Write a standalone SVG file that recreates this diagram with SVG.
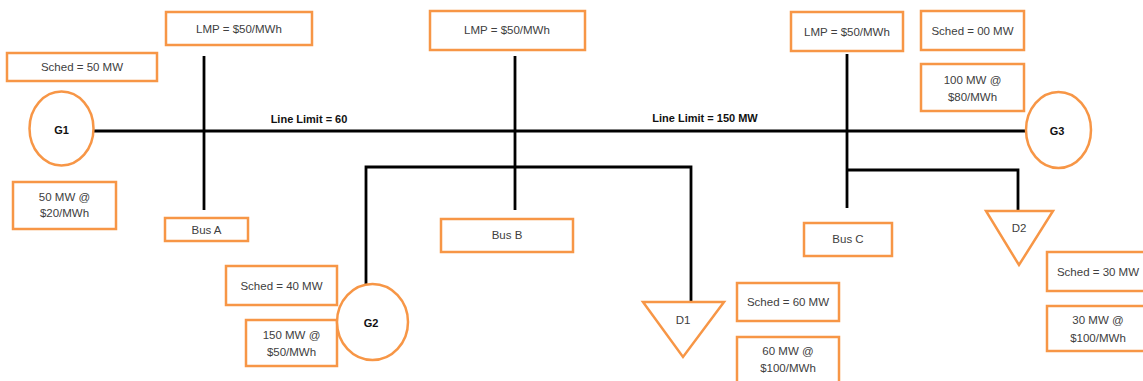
<svg xmlns="http://www.w3.org/2000/svg" width="1143" height="381" viewBox="0 0 1143 381">
<style>
.box{fill:#fff;stroke:#F79646;stroke-width:2.5}
.sym{fill:#fff;stroke:#F79646;stroke-width:2.5}
.wire{fill:none;stroke:#000;stroke-width:2.8;stroke-linejoin:miter}
text{font-family:"Liberation Sans",Arial,sans-serif;font-size:11.5px;fill:#404040;text-anchor:middle}
.b{font-weight:bold;fill:#111;font-size:11px}
</style>
<rect width="1143" height="381" fill="#fff"/>
<g id="connectors">
<path class="wire" d="M94 131 H1027"/>
<path class="wire" d="M204 56 V210"/>
<path class="wire" d="M515 56 V210"/>
<path class="wire" d="M847 54 V208"/>
<path class="wire" d="M366 284 V167 H691 V303"/>
<path class="wire" d="M847 170 H1018 V211"/>
</g>
<g id="line-limit-60"><text class="b" x="309" y="123">Line Limit = 60</text></g>
<g id="line-limit-150"><text class="b" x="705" y="122">Line Limit = 150 MW</text></g>
<g id="lmp-a"><rect class="box" x="166" y="12" width="146" height="33"/><text x="239" y="33">LMP = $50/MWh</text></g>
<g id="lmp-b"><rect class="box" x="430" y="11" width="155" height="39"/><text x="507" y="34">LMP = $50/MWh</text></g>
<g id="lmp-c"><rect class="box" x="791" y="12" width="112" height="39"/><text x="847" y="36">LMP = $50/MWh</text></g>
<g id="sched-g1"><rect class="box" x="7" y="53" width="150" height="28"/><text x="82" y="71">Sched = 50 MW</text></g>
<g id="g1"><ellipse class="sym" cx="61.5" cy="128.5" rx="32" ry="37"/><text class="b" x="61.5" y="134">G1</text></g>
<g id="offer-g1"><rect class="box" x="13" y="182" width="103" height="47"/><text x="64.5" y="201">50 MW @</text><text x="64.5" y="217">$20/MWh</text></g>
<g id="bus-a"><rect class="box" x="165" y="218" width="83" height="23"/><text x="206.5" y="233.5">Bus A</text></g>
<g id="bus-b"><rect class="box" x="441" y="219" width="132" height="33"/><text x="507" y="239">Bus B</text></g>
<g id="bus-c"><rect class="box" x="804" y="223" width="88" height="33"/><text x="848" y="243">Bus C</text></g>
<g id="sched-g3"><rect class="box" x="921" y="11" width="103" height="39"/><text x="972.5" y="35">Sched = 00 MW</text></g>
<g id="offer-g3"><rect class="box" x="921" y="64" width="103" height="47"/><text x="972.5" y="84">100 MW @</text><text x="972.5" y="101">$80/MWh</text></g>
<g id="g3"><ellipse class="sym" cx="1058.5" cy="130" rx="32.5" ry="38"/><text class="b" x="1057" y="135">G3</text></g>
<g id="sched-g2"><rect class="box" x="226" y="266" width="111" height="39"/><text x="281.5" y="290">Sched = 40 MW</text></g>
<g id="offer-g2"><rect class="box" x="246" y="320" width="91" height="46"/><text x="291.5" y="339">150 MW @</text><text x="291.5" y="356">$50/MWh</text></g>
<g id="g2"><ellipse class="sym" cx="372.5" cy="322" rx="35.5" ry="38"/><text class="b" x="371" y="327">G2</text></g>
<g id="d1"><polygon class="sym" points="643,302 724,302 683,357"/><text x="683" y="324">D1</text></g>
<g id="sched-d1"><rect class="box" x="737" y="283" width="102" height="38"/><text x="788" y="306">Sched = 60 MW</text></g>
<g id="bid-d1"><rect class="box" x="737" y="337" width="102" height="50"/><text x="788" y="355">60 MW @</text><text x="788" y="372">$100/MWh</text></g>
<g id="d2"><polygon class="sym" points="986,211 1053,211 1019,265"/><text x="1019" y="232">D2</text></g>
<g id="sched-d2"><rect class="box" x="1047" y="252" width="110" height="39"/><text x="1098" y="276">Sched = 30 MW</text></g>
<g id="bid-d2"><rect class="box" x="1047" y="306" width="110" height="45"/><text x="1098" y="324">30 MW @</text><text x="1098" y="342">$100/MWh</text></g>
</svg>
